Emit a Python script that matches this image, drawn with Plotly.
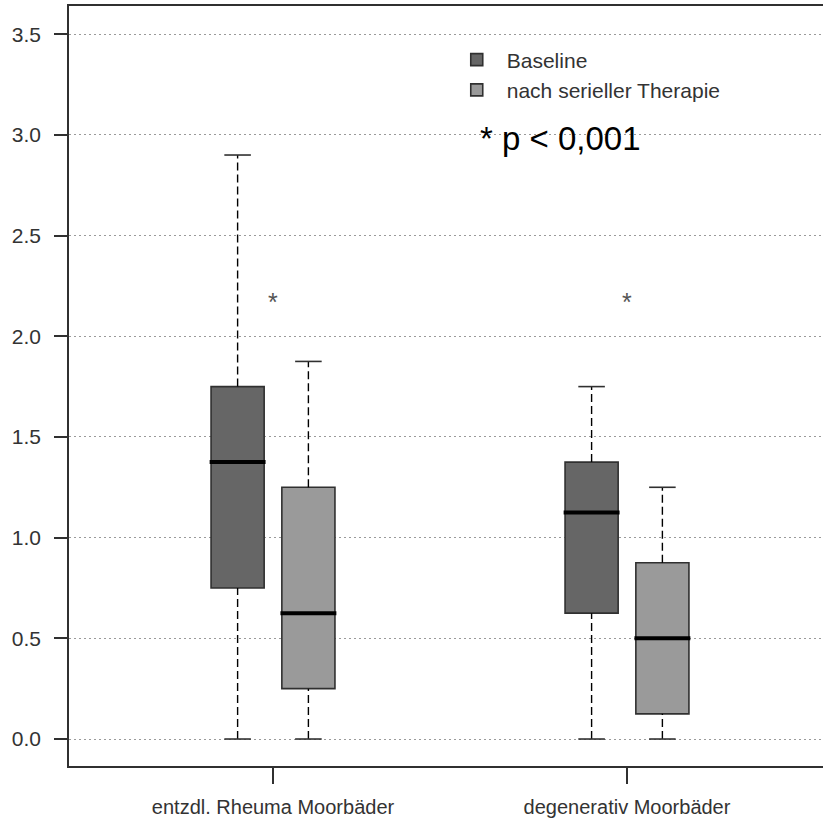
import plotly.graph_objects as go

# Categories and group positions on the numeric x axis
categories = ["entzdl. Rheuma Moorbäder", "degenerativ Moorbäder"]
group_pos = [1, 2]
series_names = ["Baseline", "nach serieller Therapie"]

# Five-number summaries per series (one value per category)
base_min = [0.0, 0.0]
base_q1 = [0.75, 0.625]
base_med = [1.375, 1.125]
base_q3 = [1.75, 1.375]
base_max = [2.9, 1.75]

post_min = [0.0, 0.0]
post_q1 = [0.25, 0.125]
post_med = [0.625, 0.5]
post_q3 = [1.25, 0.875]
post_max = [1.875, 1.25]

y_ticks = [0.0, 0.5, 1.0, 1.5, 2.0, 2.5, 3.0, 3.5]
sig_marks = ["*", "*"]
sig_y = [2.2, 2.2]
p_note = "* p < 0,001"

# Styling
FILLS = ["#666666", "#9a9a9a"]
EDGE = "#303030"
OFFSET = 0.1       # box shift from group centre
BOX_W = 0.15
CAP_W = 0.075
FONT = "Liberation Sans, Arial, sans-serif"

series = [
    (series_names[0], base_min, base_q1, base_med, base_q3, base_max, -OFFSET, FILLS[0]),
    (series_names[1], post_min, post_q1, post_med, post_q3, post_max, +OFFSET, FILLS[1]),
]

fig = go.Figure()

for name, lo, q1, med, q3, hi, off, fill in series:
    xs = [g + off for g in group_pos]

    # whiskers (dashed) from box edges to extremes
    wx, wy = [], []
    for x, a, b, c, d in zip(xs, lo, q1, q3, hi):
        wx += [x, x, None, x, x, None]
        wy += [a, b, None, c, d, None]
    fig.add_trace(go.Scatter(x=wx, y=wy, mode="lines", showlegend=False,
                             hoverinfo="skip",
                             line=dict(color="black", width=1.4, dash="8px,4px")))

    # whisker caps
    cx, cy = [], []
    for x, a, d in zip(xs, lo, hi):
        cx += [x - CAP_W / 2, x + CAP_W / 2, None, x - CAP_W / 2, x + CAP_W / 2, None]
        cy += [a, a, None, d, d, None]
    fig.add_trace(go.Scatter(x=cx, y=cy, mode="lines", showlegend=False,
                             hoverinfo="skip",
                             line=dict(color=EDGE, width=1.6)))

    # boxes from Q1 to Q3
    fig.add_trace(go.Bar(x=xs, base=q1, y=[c - b for b, c in zip(q1, q3)],
                         width=BOX_W, name=name,
                         marker=dict(color=fill, line=dict(color=EDGE, width=1.6))))

    # medians
    mx, my = [], []
    for x, m in zip(xs, med):
        mx += [x - BOX_W / 2 - 0.004, x + BOX_W / 2 + 0.004, None]
        my += [m, m, None]
    fig.add_trace(go.Scatter(x=mx, y=my, mode="lines", showlegend=False,
                             hoverinfo="skip",
                             line=dict(color="black", width=4)))

# significance asterisks above each group
for g, s, y in zip(group_pos, sig_marks, sig_y):
    fig.add_annotation(x=g, y=y, text=s, showarrow=False, xref="x", yref="y",
                       font=dict(family=FONT, size=25, color="#555555"),
                       xanchor="center", yanchor="middle", yshift=-6)

fig.add_annotation(x=1.579, y=2.98, text=p_note, showarrow=False,
                   xref="x", yref="y", xanchor="left", yanchor="middle",
                   font=dict(family=FONT, size=33, color="black"))

fig.update_layout(
    width=823, height=823,
    margin=dict(l=69, r=0, t=6, b=57),
    paper_bgcolor="white", plot_bgcolor="white",
    barmode="overlay",
    font=dict(family=FONT, color="#333333"),
    legend=dict(x=0.501, y=0.956, xanchor="left", yanchor="top",
                bgcolor="rgba(0,0,0,0)", font=dict(family=FONT, size=21, color="#333333"),
                tracegroupgap=0, itemclick=False, itemwidth=50),
    xaxis=dict(range=[0.4237, 2.5537], tickvals=group_pos, ticktext=categories,
               showgrid=False, zeroline=False, showline=True, linecolor=EDGE,
               linewidth=1.5, mirror=True, ticks="outside", ticklen=16,
               tickwidth=1.5, tickcolor=EDGE, ticklabelstandoff=6,
               tickfont=dict(family=FONT, size=20, color="#333333")),
    yaxis=dict(range=[-0.134, 3.64], tickvals=y_ticks,
               ticktext=[f"{v:.1f}" for v in y_ticks],
               showgrid=True, gridcolor="#9a9a9a", gridwidth=1, griddash="2px,3px",
               zeroline=False, showline=True, linecolor=EDGE, linewidth=1.5,
               ticks="outside", ticklen=13, tickwidth=1.5, tickcolor=EDGE,
               ticklabelstandoff=9,
               tickfont=dict(family=FONT, size=21, color="#333333")),
)

fig.write_html("out.html")
